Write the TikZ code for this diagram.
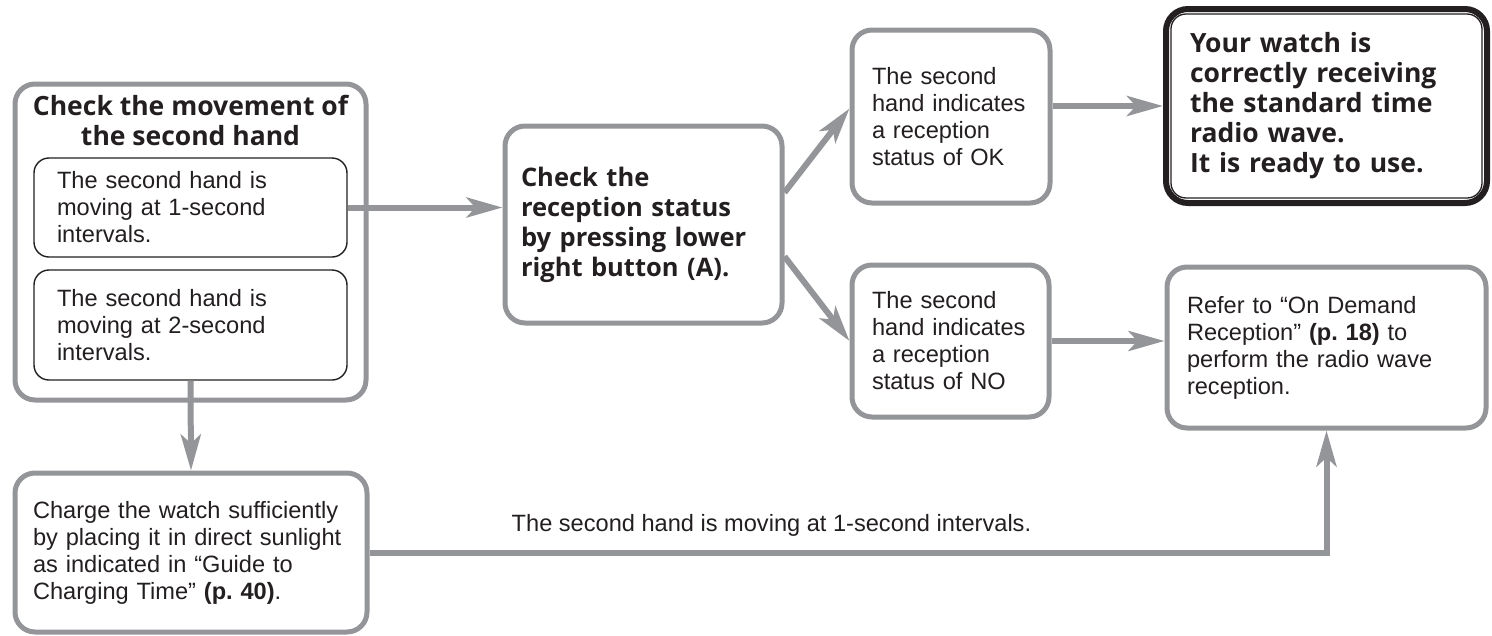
\documentclass[tikz,border=0pt]{standalone}
\usepackage{fontspec}
\setmainfont{Liberation Sans}
\newfontfamily\headfont{Open Sans}
\usetikzlibrary{arrows.meta}
\definecolor{boxgray}{RGB}{147,149,152}
\definecolor{ink}{RGB}{35,31,32}
\newcommand{\bodysize}{\fontsize{23.6pt}{27pt}\selectfont}
\newcommand{\headsize}{\headfont\bfseries\fontsize{26.5pt}{30pt}\selectfont}
\tikzset{
	graybox/.style={draw=boxgray, line width=5pt, rounded corners=20pt, fill=white, text=ink, align=left, inner ysep=0pt, font=\bodysize},
	subbox/.style={draw=ink, line width=1.4pt, rounded corners=15pt, text=ink, align=left, inner xsep=23pt, inner ysep=0pt, text width=267pt, font=\bodysize},
	finalbox/.style={draw=ink, line width=6pt, rounded corners=22pt, fill=white, text=ink, align=left, inner ysep=0pt, font=\headsize}
}
\begin{document}
\begin{tikzpicture}[->, >={Stealth[length=36pt, width=20pt, inset=9pt]}, line width=6pt, color=boxgray, x=1pt, y=-1pt]
	\useasboundingbox (0,0) rectangle (1492,635);

	\node[graybox, minimum width=351pt, minimum height=316pt] (M) at (190.5,242) {};
	\node[text=ink, align=center, font=\headsize] (H) at (190.5,120) {Check the movement of\\the second hand};
	\node[subbox, minimum height=99pt] (M1) at (190.5,207.5) {The second hand is\\moving at 1-second\\intervals.};
	\node[subbox, minimum height=110pt] (M2) at (190.5,325) {The second hand is\\moving at 2-second\\intervals.};

	\node[graybox, font=\headfont\bfseries\fontsize{25.5pt}{30pt}\selectfont, text width=245pt, inner xsep=16pt, minimum height=197pt] (C) at (643.5,224.5) {Check the\\reception status\\by pressing lower\\right button (A).};
	\node[graybox, text width=158pt, inner xsep=20pt, minimum height=173pt] (OK) at (951,116.5) {The second\\hand indicates\\a reception\\status of OK};
	\node[graybox, text width=157pt, inner xsep=20pt, minimum height=152pt] (NO) at (950.5,341) {The second\\hand indicates\\a reception\\status of NO};

	\node[finalbox, text width=273pt, inner xsep=24pt, minimum height=194pt] (W) at (1326.5,106) {Your watch is\\correctly receiving\\the standard time\\radio wave.\\It is ready to use.};
	\draw[-, ink, line width=1.3pt, rounded corners=15pt] ([shift={(8pt,-8pt)}]W.north west) rectangle ([shift={(-8pt,8pt)}]W.south east);
	\node[graybox, text width=279pt, inner xsep=20pt, minimum height=161pt] (D) at (1326.5,347.5) {Refer to “On Demand\\Reception” \textbf{(p.\ 18)} to\\perform the radio wave\\reception.};

	\node[graybox, text width=316pt, inner xsep=18pt, minimum height=159pt] (S) at (191,552.5) {Charge the watch sufficiently\\by placing it in direct sunlight\\as indicated in “Guide to\\Charging Time” \textbf{(p.\ 40)}.};

	\path (M1.east) edge (M1.east -| C.west);
	\path (M2.south) edge (S.north);
	\path ([yshift=32pt]C.east) edge ([yshift=8pt]OK.west);
	\path ([yshift=-32pt]C.east) edge (NO.west);
	\path (OK.east |- W.west) edge (W.west);
	\path (NO.east) edge (NO.east -| D.west);
	\draw (S.east) -| node[pos=0.21, above=10pt, text=ink, font=\bodysize] {The second hand is moving at 1-second intervals.} (D.south);
\end{tikzpicture}
\end{document}
